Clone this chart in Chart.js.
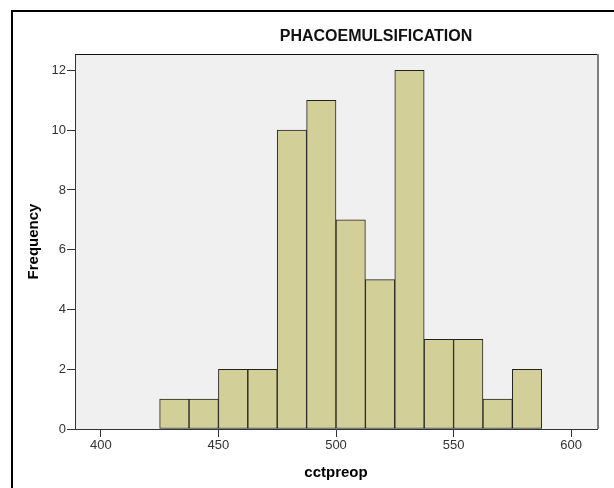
<!DOCTYPE html>
<html>
<head>
<meta charset="utf-8">
<script src="https://cdn.jsdelivr.net/npm/chart.js@4/dist/chart.umd.min.js"></script>
<style>
  html, body { margin: 0; padding: 0; background: #fff; }
  body { width: 614px; height: 488px; position: relative; overflow: hidden; }
  .frame {
    position: absolute; left: 11px; top: 10px;
    width: 700px; height: 600px;
    border: 2px solid #000;
  }
  #wrap { position: absolute; left: 0; top: 0; width: 614px; height: 488px; }
</style>
</head>
<body>
<div class="frame"></div>
<div id="wrap"><canvas id="histChart"></canvas></div>
<script>
// bins of width 12.5 starting at 425
const binStarts = [425, 437.5, 450, 462.5, 475, 487.5, 500, 512.5, 525, 537.5, 550, 562.5, 575];
const binWidth = 12.5;
const counts = [1, 1, 2, 2, 10, 11, 7, 5, 12, 3, 3, 1, 2];
const xTickValues = [400, 450, 500, 550, 600];
const yTickValues = [0, 2, 4, 6, 8, 10, 12];

const chartTitle = "PHACOEMULSIFICATION";
const xTitle = "cctpreop";
const yTitle = "Frequency";

const plotBackground = {
  id: "plotBackground",
  beforeDraw(chart) {
    const { ctx, chartArea: a } = chart;
    ctx.save();
    ctx.fillStyle = "#f0f0f0";
    ctx.fillRect(a.left, a.top, a.right - a.left, a.bottom - a.top);
    ctx.restore();
  },
  afterDraw(chart) {
    const { ctx, chartArea: a } = chart;
    ctx.save();
    ctx.strokeStyle = "#111";
    ctx.lineWidth = 1;
    ctx.beginPath();
    ctx.moveTo(a.left, a.top + 0.5);
    ctx.lineTo(a.right, a.top + 0.5);
    ctx.stroke();
    ctx.strokeStyle = "#808080";
    ctx.lineWidth = 2;
    ctx.beginPath();
    ctx.moveTo(a.right + 1, a.top);
    ctx.lineTo(a.right + 1, a.bottom);
    ctx.stroke();
    ctx.fillStyle = "#111";
    ctx.font = "bold 16px 'Liberation Sans', Arial, sans-serif";
    ctx.textAlign = "center";
    ctx.textBaseline = "middle";
    ctx.fillText(chartTitle, 376, 37);
    ctx.restore();
  },
};

const tickFont = { family: "'Liberation Sans', Arial, sans-serif", size: 13 };
const titleFont = { family: "'Liberation Sans', Arial, sans-serif", size: 15, weight: "bold" };

new Chart(document.getElementById("histChart"), {
  type: "bar",
  data: {
    datasets: [
      {
        data: binStarts.map((s, i) => ({ x: s + binWidth / 2, y: counts[i] })),
        backgroundColor: "#d3cf98",
        borderColor: "#222",
        borderWidth: 1,
        borderSkipped: false,
        barPercentage: 1,
        categoryPercentage: 1,
      },
    ],
  },
  options: {
    responsive: true,
    maintainAspectRatio: false,
    animation: false,
    layout: { padding: { top: 54, right: 17, bottom: 0, left: 0 } },
    plugins: {
      legend: { display: false },
      tooltip: { enabled: false },
    },
    scales: {
      x: {
        type: "linear",
        min: 389,
        max: 611,
        offset: false,
        afterBuildTicks: (scale) => {
          scale.ticks = xTickValues.map((v) => ({ value: v }));
        },
        afterFit: (scale) => {
          scale.height = 59;
        },
        grid: { offset: false, drawOnChartArea: false, tickLength: 8, color: "#333" },
        border: { display: true, color: "#333", width: 1 },
        ticks: { font: tickFont, color: "#333", padding: 1, maxRotation: 0 },
        title: { display: true, text: xTitle, font: titleFont, color: "#000", padding: { top: 0, bottom: 6 } },
      },
      y: {
        min: 0,
        max: 12.55,
        afterBuildTicks: (scale) => {
          scale.ticks = yTickValues.map((v) => ({ value: v }));
        },
        afterFit: (scale) => {
          scale.width = 75;
        },
        grid: { drawOnChartArea: false, tickLength: 8, color: "#333" },
        border: { display: true, color: "#333", width: 1 },
        ticks: { font: tickFont, color: "#333", padding: 1 },
        title: { display: true, text: yTitle, font: titleFont, color: "#000", padding: { top: 25, bottom: 0 } },
      },
    },
  },
  plugins: [plotBackground],
});
</script>
</body>
</html>
